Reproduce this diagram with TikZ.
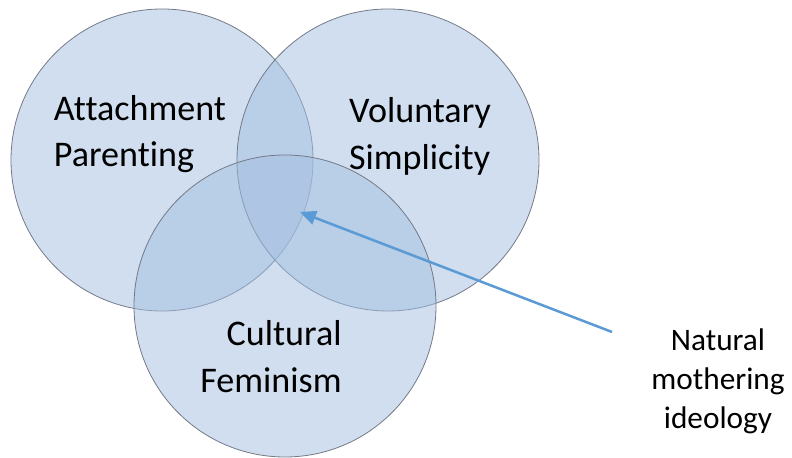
\documentclass[tikz,border=0pt]{standalone}
\usepackage{fontspec}
\setmainfont{Carlito}[Ligatures={NoCommon}]
\usepackage{tikz}
\usetikzlibrary{arrows.meta}

\definecolor{setfill}{RGB}{163,190,224}
\definecolor{setline}{RGB}{115,122,135}
\definecolor{pointer}{RGB}{91,155,213}

\tikzset{
  set/.style={circle, draw=setline, line width=0.4pt, fill=setfill,
    fill opacity=0.51, minimum size=151bp, inner sep=0pt},
  setname/.style={inner sep=0pt, text=black, font=\fontsize{18.1}{23.5}\selectfont},
  note/.style={inner sep=0pt, align=center, font=\fontsize{15.7}{19.6}\selectfont}
}

\begin{document}
\begin{tikzpicture}[x=0.5bp, y=-0.5bp]
\useasboundingbox (0,0) rectangle (792,458);
% the three sets
\node[set] (ap) at (162,160) {};
\node[set] (vs) at (388,160) {};
\node[set] (cf) at (285,306) {};
% set names
\node[setname, align=left]  (apname) at (140,134) {Attachment\\Parenting};
\node[setname, align=left]  (vsname) at (420,136) {Voluntary\\Simplicity};
\node[setname, align=right] (cfname) at (271,357) {Cultural\\Feminism};
% the shared middle
\node[note] (nm) at (718,381) {Natural\\mothering\\ideology};
\coordinate (nmtail) at (612,332);
\coordinate (middle) at (300,212);
\draw[pointer, line width=1.25bp, -{Triangle[length=8bp,width=7bp]}] (nmtail) -- (middle);
\end{tikzpicture}
\end{document}
